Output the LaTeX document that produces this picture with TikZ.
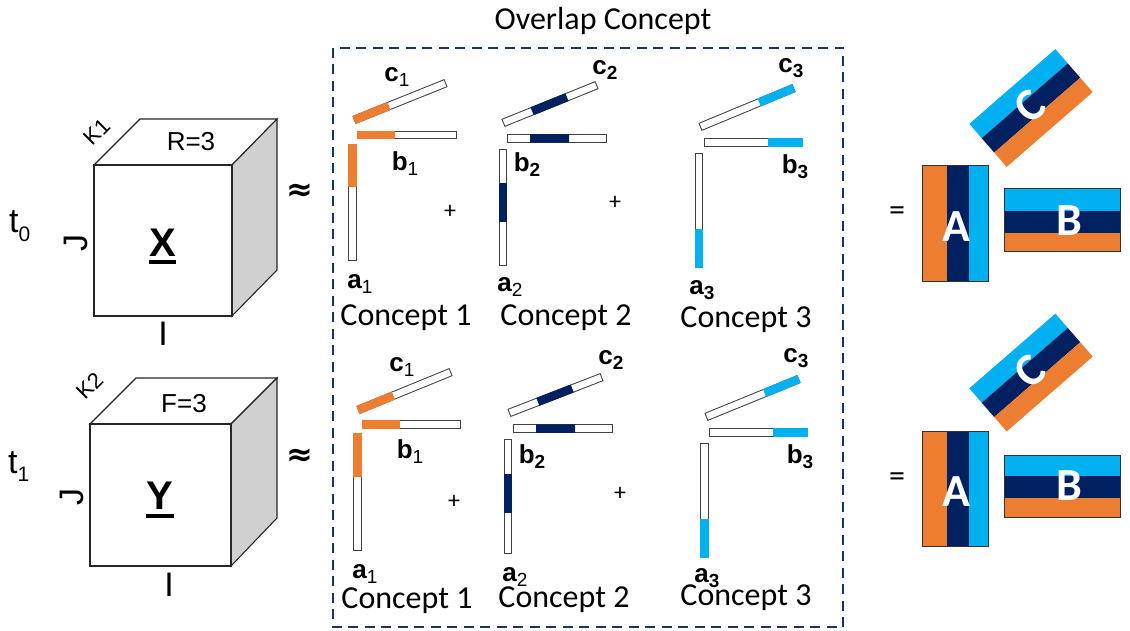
\documentclass[tikz,border=0pt]{standalone}
\usepackage{fontspec}
\setmainfont{Carlito}
\newfontfamily\arialf{Liberation Sans}
\newfontfamily\dejavuf{DejaVu Sans}
\usetikzlibrary{calc}
\definecolor{corange}{HTML}{ED7D31}
\definecolor{cnavy}{HTML}{002060}
\definecolor{ccyan}{HTML}{00B0F0}
\definecolor{boxblue}{HTML}{1A3468}
\definecolor{sidegray}{HTML}{D0D0D0}
\newcommand{\mysub}[1]{\raisebox{-5pt}{\fontsize{19}{21}\selectfont\mdseries #1}}
\newcommand{\mysubb}[1]{\raisebox{-5pt}{\fontsize{19}{21}\selectfont\bfseries #1}}
% factor bar: start, end, from, to, colour
\newcommand{\fbar}[5]{%
  \draw[line width=8.5pt,black!75] #1 -- #2;
  \draw[line width=6.5pt,white,shorten <=1pt,shorten >=1pt] #1 -- #2;
  \draw[line width=8.5pt,#5] ($#1!#3!#2$) -- ($#1!#4!#2$);
}
\tikzset{
  lab/.style={inner sep=0pt,font=\arialf\bfseries\fontsize{26}{30}\selectfont},
  concept/.style={inner sep=0pt,font=\fontsize{32}{38}\selectfont},
  plus/.style={inner sep=0pt,font=\fontsize{24}{28}\selectfont},
  approx/.style={inner sep=0pt,font=\dejavuf\bfseries\fontsize{32}{36}\selectfont},
  ariall/.style={inner sep=0pt,font=\arialf\fontsize{34}{40}\selectfont},
  small/.style={inner sep=0pt,font=\arialf\fontsize{26}{30}\selectfont},
  kl/.style={inner sep=0pt,font=\arialf\fontsize{22}{26}\selectfont,rotate=45},
  big/.style={inner sep=0pt,font=\arialf\bfseries\fontsize{40}{48}\selectfont},
  mat/.style={inner sep=0pt,text=white,font=\bfseries\fontsize{46}{52}\selectfont},
  edge/.style={line width=1.1pt,black!85},
}
\begin{document}
\begin{tikzpicture}[x=1pt,y=-1pt]
\useasboundingbox (0,0) rectangle (1130,631);
\fill[white] (0,0) rectangle (1130,631);

% ---------- cube X ----------
\draw[edge,fill=white] (94,165) -- (140,119) -- (277,119) -- (232,165) -- cycle;
\draw[edge,fill=sidegray] (232,165) -- (277,119) -- (277,270) -- (232,316) -- cycle;
\draw[edge,fill=white] (94,165) rectangle (232,316);
\node[big] (X) at (162.5,242.5) {X};
\draw[line width=4pt] ([yshift=-5.5pt]X.south west) -- ([yshift=-5.5pt]X.south east);
\node[small] (R) at (191,142) {R=3};
\node[kl] (K1) at (97,132) {K1};
\node[ariall,rotate=90] (J1) at (76,243) {J};
\node[ariall] (I1) at (163,334) {I};
\node[ariall,anchor=base west] (t0) at (9,233) {t\raisebox{-9pt}{\fontsize{21}{24}\selectfont 0}};
\node[approx] (ap1) at (300,192) {≈};

% ---------- cube Y ----------
\draw[edge,fill=white] (90,424) -- (136,378) -- (277,378) -- (231,424) -- cycle;
\draw[edge,fill=sidegray] (231,424) -- (277,378) -- (277,518) -- (231,566) -- cycle;
\draw[edge,fill=white] (90,424) rectangle (231,566);
\node[big] (Y) at (160,496) {Y};
\draw[line width=4pt] ([yshift=-6pt]Y.south west) -- ([yshift=-6pt]Y.south east);
\node[small] (F) at (184,404) {F=3};
\node[kl] (K2) at (90,386) {K2};
\node[ariall,rotate=90] (J2) at (72,497) {J};
\node[ariall] (I2) at (169,585) {I};
\node[ariall,anchor=base west] (t1) at (8,473) {t\raisebox{-8pt}{\fontsize{21}{24}\selectfont 1}};
\node[approx] (ap2) at (300,457) {≈};

% ---------- overlap box ----------
\draw[boxblue,line width=2.2pt,dash pattern=on 10pt off 6.5pt] (333,48) rectangle (843,627);
\node[concept] (title) at (603,21) {Overlap Concept};

% ---------- top row factors ----------
\fbar{(354,120)}{(446,83)}{0}{0.38}{corange}
\fbar{(357,135)}{(457,135)}{0}{0.38}{corange}
\fbar{(352.5,144)}{(352.5,261)}{0}{0.37}{corange}
\fbar{(503,123)}{(597,85)}{0.31}{0.68}{cnavy}
\fbar{(507,138.5)}{(607,138.5)}{0.23}{0.62}{cnavy}
\fbar{(503,149)}{(503,266)}{0.29}{0.62}{cnavy}
\fbar{(700,127)}{(794,88)}{0.63}{1}{ccyan}
\fbar{(704,142.5)}{(803,142.5)}{0.65}{1}{ccyan}
\fbar{(699,153)}{(699,268)}{0.66}{1}{ccyan}

\node[lab] (c1t) at (397,77) {c\mysub{1}};
\node[lab] (b1t) at (405,164) {b\mysub{1}};
\node[lab] (a1t) at (360,284) {a\mysub{1}};
\node[lab] (c2t) at (605,70) {c\mysubb{2}};
\node[lab] (b2t) at (527,165) {b\mysubb{2}};
\node[lab] (a2t) at (510,287) {a\mysub{2}};
\node[lab] (c3t) at (791,68) {c\mysubb{3}};
\node[lab] (b3t) at (795,167) {b\mysubb{3}};
\node[lab] (a3t) at (702,290) {a\mysubb{3}};
\node[plus] (p1t) at (450,212) {+};
\node[plus] (p2t) at (615,203) {+};
\node[concept] (k1t) at (406,318) {Concept 1};
\node[concept] (k2t) at (566,318) {Concept 2};
\node[concept] (k3t) at (746,320) {Concept 3};

% ---------- bottom row factors ----------
\fbar{(358,410)}{(451,372)}{0}{0.38}{corange}
\fbar{(362,424.5)}{(461,424.5)}{0}{0.38}{corange}
\fbar{(357.5,433)}{(357.5,551)}{0}{0.37}{corange}
\fbar{(509,413)}{(602,377)}{0.31}{0.68}{cnavy}
\fbar{(513,428.5)}{(613,428.5)}{0.23}{0.62}{cnavy}
\fbar{(508,439)}{(508,554)}{0.3}{0.64}{cnavy}
\fbar{(706,417)}{(799,379)}{0.63}{1}{ccyan}
\fbar{(709,432.5)}{(808,432.5)}{0.65}{1}{ccyan}
\fbar{(704.5,443)}{(704.5,558)}{0.66}{1}{ccyan}

\node[lab] (c1b) at (402,367) {c\mysub{1}};
\node[lab] (b1b) at (410,452) {b\mysub{1}};
\node[lab] (a1b) at (365,574) {a\mysub{1}};
\node[lab] (c2b) at (611,360) {c\mysubb{2}};
\node[lab] (b2b) at (532,457) {b\mysubb{2}};
\node[lab] (a2b) at (515,577) {a\mysub{2}};
\node[lab] (c3b) at (796,358) {c\mysubb{3}};
\node[lab] (b3b) at (800,457) {b\mysubb{3}};
\node[lab] (a3b) at (707,578) {a\mysubb{3}};
\node[plus] (p1b) at (454,502) {+};
\node[plus] (p2b) at (620,494) {+};
\node[concept] (k1b) at (407,601) {Concept 1};
\node[concept] (k2b) at (564,600) {Concept 2};
\node[concept] (k3b) at (746,598) {Concept 3};

% ---------- right: A, B, C (top) ----------
\node[plus,font=\fontsize{32}{36}\selectfont] (eq1) at (897,214) {=};
\fill[corange] (922,166) rectangle (947,281);
\fill[cnavy] (947,166) rectangle (969,281);
\fill[ccyan] (969,166) rectangle (988,281);
\draw[line width=1pt,black!80] (922,166) rectangle (988,281);
\node[mat] (A1) at (956,227) {A};
\fill[ccyan] (1004,189) rectangle (1120,211);
\fill[cnavy] (1004,211) rectangle (1120,233);
\fill[corange] (1004,233) rectangle (1120,252);
\draw[line width=1pt,black!80] (1004,189) rectangle (1120,252);
\node[mat] (B1) at (1069,221) {B};
\begin{scope}[shift={(1031,108)},rotate=41]
  \fill[ccyan] (-57,-28.5) rectangle (57,-9.5);
  \fill[cnavy] (-57,-9.5) rectangle (57,9.5);
  \fill[corange] (-57,9.5) rectangle (57,28.5);
  \node[mat,rotate=41] (C1) at (0,-2) {C};
\end{scope}

% ---------- right: A, B, C (bottom) ----------
\node[plus,font=\fontsize{32}{36}\selectfont] (eq2) at (897,480) {=};
\fill[corange] (922,431) rectangle (947,546);
\fill[cnavy] (947,431) rectangle (969,546);
\fill[ccyan] (969,431) rectangle (988,546);
\draw[line width=1pt,black!80] (922,431) rectangle (988,546);
\node[mat] (A2) at (956,492) {A};
\fill[ccyan] (1004,455) rectangle (1120,476);
\fill[cnavy] (1004,476) rectangle (1120,498);
\fill[corange] (1004,498) rectangle (1120,517);
\draw[line width=1pt,black!80] (1004,455) rectangle (1120,517);
\node[mat] (B2) at (1069,486) {B};
\begin{scope}[shift={(1031,372.5)},rotate=41]
  \fill[ccyan] (-57,-28.5) rectangle (57,-9.5);
  \fill[cnavy] (-57,-9.5) rectangle (57,9.5);
  \fill[corange] (-57,9.5) rectangle (57,28.5);
  \node[mat,rotate=41] (C2) at (0,-2) {C};
\end{scope}
\end{tikzpicture}
\end{document}
